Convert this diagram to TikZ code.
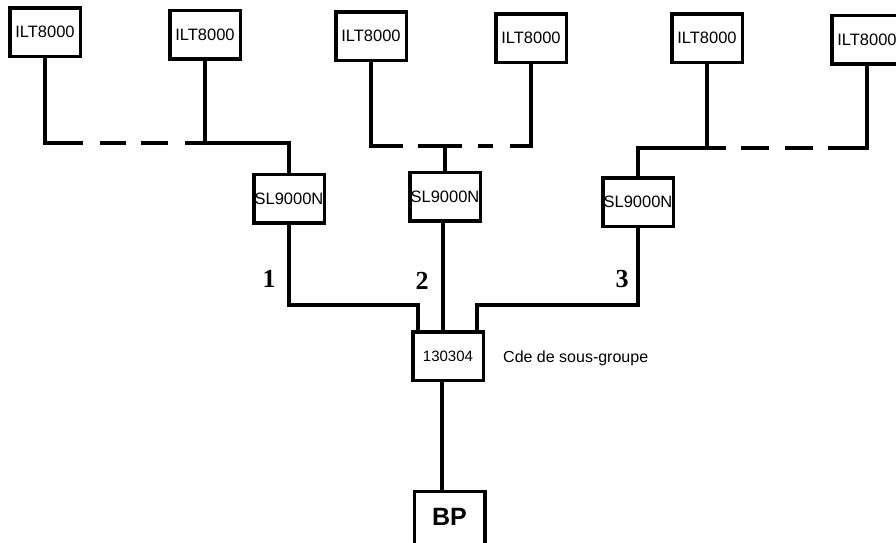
\documentclass[tikz,border=0pt]{standalone}
\usepackage{fontspec}
\setmainfont{Liberation Sans}
\newfontfamily\serifnum{Liberation Serif}
\begin{document}
\begin{tikzpicture}[x=1pt,y=-1pt,
  box/.style={draw,line width=3.5pt,inner sep=0pt,minimum width=70.5pt,minimum height=48.5pt,font=\fontsize{16.5}{18}\selectfont},
  wire/.style={line width=3.5pt,line join=miter},
  num/.style={font=\serifnum\bfseries\fontsize{26}{28}\selectfont,inner sep=0pt}]
\fill[white] (0,0) rectangle (896,542);
\useasboundingbox (0,0) rectangle (896,542);
\clip (0,0) rectangle (896,542);
% ILT boxes
\node[box] (I1) at (45,32) {ILT8000};
\node[box] (I2) at (205,34.5) {ILT8000};
\node[box] (I3) at (371,36) {ILT8000};
\node[box] (I4) at (531,38) {ILT8000};
\node[box] (I5) at (707,38) {ILT8000};
\node[box] (I6) at (867,39.5) {ILT8000};
% SL boxes
\node[box] (S1) at (289,198.5) {SL9000N};
\node[box] (S2) at (445,196.5) {SL9000N};
\node[box] (S3) at (638,202) {SL9000N};
% central
\node[box,font=\fontsize{15}{17}\selectfont] (C) at (448,356) {130304};
\node[box,minimum height=54pt,font=\bfseries\fontsize{25}{28}\selectfont] (BP) at (449.5,518.5) {\raisebox{2.5pt}{BP}};
\node[anchor=west,inner sep=0pt,font=\fontsize{16}{18}\selectfont] (lab) at (503,358) {Cde de sous-groupe};
% numbers
\node[num] (n1) at (269,279) {1};
\node[num] (n2) at (422,281) {2};
\node[num] (n3) at (622,279) {3};
% junction coordinates
\coordinate (h1) at (0,143);
\coordinate (h2) at (0,146);
\coordinate (h3) at (0,148);
\coordinate (h4) at (0,305);
% group 1
\draw[wire,dash pattern=on 123pt off 17pt on 26pt off 15pt on 27pt off 17pt on 600pt]
  (I1.south) -- (I1.south |- h1) -- (S1.north |- h1) -- (S1.north);
\draw[wire] (I2.south) -- (I2.south |- h1);
% group 2
\draw[wire,dash pattern=on 116pt off 15pt on 44pt off 16pt on 15pt off 17pt on 600pt]
  (I3.south) -- (I3.south |- h2) -- (I4.south |- h2) -- (I4.south);
\draw[wire] (S2.north) -- (S2.north |- h2);
% group 3
\draw[wire,dash pattern=on 116pt off 15pt on 28pt off 16pt on 28pt off 15pt on 600pt]
  (S3.north) -- (S3.north |- h3) -- (I6.south |- h3) -- (I6.south);
\draw[wire] (I5.south) -- (I5.south |- h3);
% to central
\draw[wire] (S1.south) -- (S1.south |- h4) -- ([xshift=-30pt]C.north |- h4) -- ([xshift=-30pt]C.north);
\draw[wire] ([xshift=-2pt]S2.south) -- ([xshift=-2pt]S2.south |- C.north);
\draw[wire] (S3.south) -- (S3.south |- h4) -- ([xshift=29pt]C.north |- h4) -- ([xshift=29pt]C.north);
\draw[wire] ([xshift=-6pt]C.south) -- ([xshift=-6pt]C.south |- BP.north);
\end{tikzpicture}
\end{document}
